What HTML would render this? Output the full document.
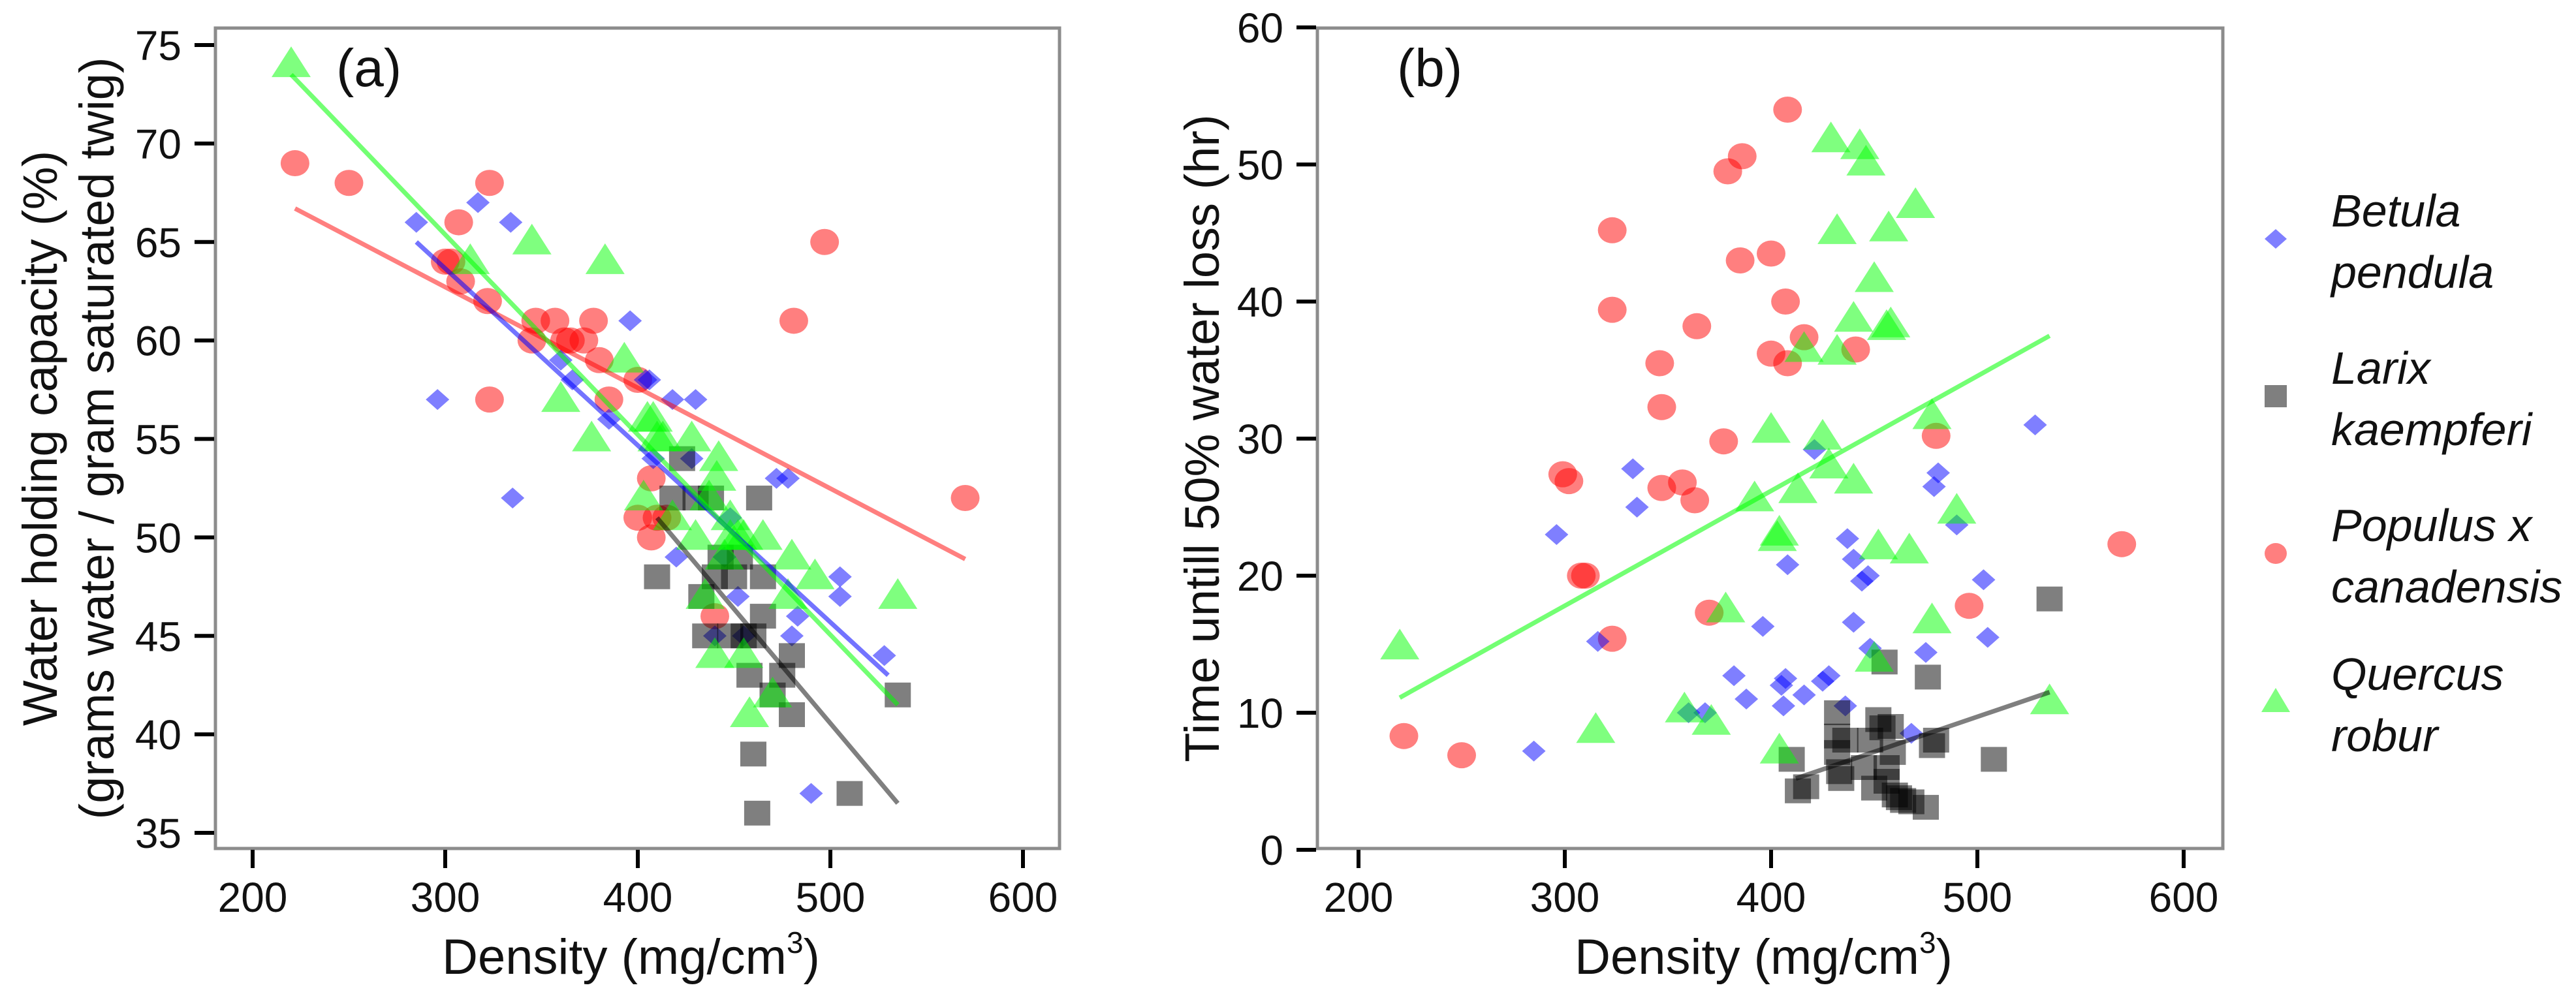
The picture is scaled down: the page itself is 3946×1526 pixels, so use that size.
<!DOCTYPE html>
<html><head><meta charset="utf-8"><style>
html,body{margin:0;padding:0;background:#fff;}
svg{display:block;font-family:"Liberation Sans",Arial,sans-serif;}
</style></head><body>
<svg id="chart" width="3946" height="1526" viewBox="0 0 3946 1526" xmlns="http://www.w3.org/2000/svg">
<g id="pa"></g>
<g id="pb"></g>
<g id="legend"></g>
</svg>
<script>
// ---- Panel (a) data: density vs water holding capacity ----
const aPopX=[222,250,300,303,307,308,322,323,323,345,347,357,362,365,372,377,380,385,400,400,407,407,410,415,440,497,481,570];
const aPopY=[69,68,64,64,66,63,62,68,57,60,61,61,60,60,60,61,59,57,58,51,53,50,51,51,46,65,61,52];
const aBetX=[285,296,317,334,335,360,366,385,396,404,406,408,418,428,430,420,440,445,448,452,455,472,478,483,480,505,505,528,490];
const aBetY=[66,57,67,66,52,59,58,56,61,58,58,54,57,54,57,49,45,49,51,47,45,53,53,46,45,48,47,44,37];
const aQueX=[220,313,345,360,376,383,393,403,405,408,410,413,418,428,430,435,437,441,442,445,448,448,452,455,455,458,465,470,478,480,492,535,440];
const aQueY=[74,64,65,57,55,64,59,52,56,56,55,55,51,55,50,47,52,53,54,49,50,51,50,50,44,41,50,42,47,49,48,47,44];
const aLarX=[410,418,423,430,433,435,438,440,443,448,450,453,455,458,460,460,462,465,465,470,475,480,480,463,510,535];
const aLarY=[48,52,54,52,47,45,52,48,49,45,48,49,45,43,45,39,36,46,48,42,43,44,41,52,37,42];
const aFitPopX=[222,570], aFitPopY=[66.7,48.9];
const aFitBetX=[285,530], aFitBetY=[65,43];
const aFitQueX=[220,535], aFitQueY=[73.5,41.5];
const aFitLarX=[410,535], aFitLarY=[51,36.5];
const aYTicks=[35,40,45,50,55,60,65,70,75];
// ---- Panel (b) data: density vs time to 50% water loss ----
const bPopX=[222,250,299,302,308,310,323,323,323,346,347,347,357,363,364,377,379,386,385,400,400,407,408,408,416,441,480,496,570,370];
const bPopY=[8.3,6.9,27.4,26.9,20,20,45.2,39.4,15.4,35.5,32.3,26.4,26.8,25.5,38.2,29.8,49.5,50.6,43,43.5,36.2,40,35.5,54,37.4,36.5,30.2,17.8,22.3,17.3];
const bBetX=[285,296,316,333,335,360,368,382,388,396,405,406,407,408,416,421,425,428,436,437,440,440,444,447,448,468,475,479,481,490,503,505,528];
const bBetY=[7.2,23,15.2,27.8,25,10,10,12.7,11,16.3,12,10.5,12.5,20.8,11.3,29.2,12.3,12.7,10.5,22.7,21.2,16.6,19.6,20,14.7,8.5,14.4,26.5,27.5,23.7,19.7,15.5,31];
const bQueX=[220,315,358,371,378,392,400,403,404,404,413,416,425,429,432,432,428,440,440,443,446,450,450,452,457,456,458,467,470,478,478,490,535];
const bQueY=[14.8,8.7,10.2,9.3,17.5,25.6,30.6,22.7,23.1,7.2,26.2,36.5,30.1,51.8,45.1,36.3,28,38.7,26.9,51.3,50.1,41.6,13.9,22.1,45.3,38.1,38.3,21.8,47,16.7,31.6,24.7,10.8];
const bLarX=[410,413,417,432,432,432,433,434,436,445,448,450,452,454,456,456,458,459,460,462,464,468,475,476,478,480,508,535,455];
const bLarY=[6.6,4.3,4.6,10,8.3,7.1,5.7,5.2,8,6,8,4.5,9.5,8.9,6,5,9,7.1,4,3.8,3.6,3.5,3.1,12.6,7.6,8,6.6,18.3,13.7];
const bFitQueX=[220,535], bFitQueY=[11.1,37.5];
const bFitLarX=[412,535], bFitLarY=[5.2,11.5];
const bYTicks=[0,10,20,30,40,50,60];
const xTicks=[200,300,400,500,600];
const species=["Betula\npendula","Larix\nkaempferi","Populus x\ncanadensis","Quercus\nrobur"];

const NS="http://www.w3.org/2000/svg";
function mk(parent,tag,attrs,text){const e=document.createElementNS(NS,tag);for(const k in attrs)e.setAttribute(k,attrs[k]);if(text!==undefined)e.textContent=text;parent.appendChild(e);return e;}

const COL={bet:"rgba(0,0,255,0.5)",lar:"rgba(0,0,0,0.5)",pop:"rgba(255,0,0,0.5)",que:"rgba(0,255,0,0.5)"};
const LCOL={bet:"rgba(0,0,255,0.55)",lar:"rgba(0,0,0,0.5)",pop:"rgba(255,0,0,0.5)",que:"rgba(0,255,0,0.55)"};

function marker(g,kind,cx,cy){
  let e;
  if(kind==="pop"){e=mk(g,"ellipse",{cx:cx,cy:cy,rx:22,ry:20,fill:COL.pop});}
  else if(kind==="lar"){e=mk(g,"rect",{x:cx-20,y:cy-19,width:40,height:38,fill:COL.lar});}
  else if(kind==="bet"){e=mk(g,"polygon",{points:`${cx},${cy-16} ${cx+18},${cy} ${cx},${cy+16} ${cx-18},${cy}`,fill:COL.bet});}
  else {e=mk(g,"polygon",{points:`${cx},${cy-28} ${cx+30},${cy+19} ${cx-30},${cy+19}`,fill:COL.que});}
  return e;
}

function panel(g,cfg){
  const L=cfg.L,R=cfg.R,T=43,B=1300;
  const sx=v=>cfg.x0px+(v-200)*cfg.pxPer100/100;
  const sy=v=>cfg.yTop+(cfg.yMaxV-v)*(cfg.yBot-cfg.yTop)/(cfg.yMaxV-cfg.yMinV);
  const box=mk(g,"rect",{x:L,y:T,width:R-L,height:B-T,fill:"#fff",stroke:"#8c8c8c","stroke-width":5});
  
  
  const clip=mk(g,"g",{});
  const order=[["pop",cfg.pop],["bet",cfg.bet],["lar",cfg.lar],["que",cfg.que]];
  order.forEach(([k,d])=>{
    const sg=mk(clip,"g",{});
    
    
    for(let i=0;i<d[0].length;i++){
      const m=marker(sg,k,sx(d[0][i]),sy(d[1][i]));
      
      
    }
  });
  cfg.fits.forEach(([k,fx,fy])=>{
    const ln=mk(g,"line",{x1:sx(fx[0]),y1:sy(fy[0]),x2:sx(fx[1]),y2:sy(fy[1]),stroke:LCOL[k],"stroke-width":7});
    
    
  });
  // x ticks
  xTicks.forEach(t=>{
    const x=sx(t);
    const tk=mk(g,"line",{x1:x,y1:B+2,x2:x,y2:B+30,stroke:"#000","stroke-width":6});
    
    
    const lb=mk(g,"text",{x:x,y:1397,"font-size":64,"text-anchor":"middle",fill:"#111"},String(t));
    
    
  });
  cfg.yTicks.forEach(t=>{
    const y=sy(t);
    const tk=mk(g,"line",{x1:L-32,y1:y,x2:L-2,y2:y,stroke:"#000","stroke-width":6});
    
    
    const lb=mk(g,"text",{x:L-52,y:y+23,"font-size":64,"text-anchor":"end",fill:"#111"},String(t));
    
    
  });
  const xt=mk(g,"text",{x:(L+R)/2-10,y:1492,"font-size":76,"text-anchor":"middle",fill:"#111"});
  
  
  xt.appendChild(document.createTextNode("Density (mg/cm"));
  mk(xt,"tspan",{"font-size":46,dy:-32},"3");
  mk(xt,"tspan",{dy:32},")");
  const lab=mk(g,"text",{x:cfg.labX,y:132,"font-size":82,fill:"#111"},cfg.label);
  
  
  cfg.titles.forEach(([x,txt])=>{
    const tt=mk(g,"text",{x:0,y:0,"font-size":74,"text-anchor":"middle",fill:"#111",transform:`translate(${x},${(T+B)/2}) rotate(-90)`},txt);
    
    
  });
}

panel(document.getElementById("pa"),{L:330,R:1623,x0px:387,pxPer100:295,yTop:69,yBot:1276,yMaxV:75,yMinV:35,yTicks:aYTicks,
  pop:[aPopX,aPopY],bet:[aBetX,aBetY],lar:[aLarX,aLarY],que:[aQueX,aQueY],
  fits:[["pop",aFitPopX,aFitPopY],["bet",aFitBetX,aFitBetY],["que",aFitQueX,aFitQueY],["lar",aFitLarX,aFitLarY]],
  label:"(a)",labX:515,titles:[[87,"Water holding capacity (%)"],[174,"(grams water / gram saturated twig)"]]});
panel(document.getElementById("pb"),{L:2018,R:3405,x0px:2081,pxPer100:316,yTop:42,yBot:1302,yMaxV:60,yMinV:0,yTicks:bYTicks,
  pop:[bPopX,bPopY],bet:[bBetX,bBetY],lar:[bLarX,bLarY],que:[bQueX,bQueY],
  fits:[["que",bFitQueX,bFitQueY],["lar",bFitLarX,bFitLarY]],
  label:"(b)",labX:2140,titles:[[1867,"Time untill 50% water loss (hr)"]]});

// legend
const lg=document.getElementById("legend");
const keys=["bet","lar","pop","que"];
const my=[366,607,848,1076];
keys.forEach((k,i)=>{
  const eg=mk(lg,"g",{});
  
  
  let m;
  if(k==="bet") m=mk(eg,"polygon",{points:`3486,${my[i]-15} 3503,${my[i]} 3486,${my[i]+15} 3469,${my[i]}`,fill:COL.bet});
  else if(k==="lar") m=mk(eg,"rect",{x:3469,y:my[i]-17,width:34,height:34,fill:COL.lar});
  else if(k==="pop") m=mk(eg,"ellipse",{cx:3486,cy:my[i],rx:17,ry:16,fill:COL.pop});
  else m=mk(eg,"polygon",{points:`3486,${my[i]-22} 3508,${my[i]+15} 3464,${my[i]+15}`,fill:COL.que});
  
  
  const lines=species[i].split("\n");
  lines.forEach((s,j)=>{
    const t=mk(eg,"text",{x:3571,y:my[i]-45+j*94+26,"font-size":70,"font-style":"italic",fill:"#111"},s);
    
    
  });
});
</script>
</body></html>
